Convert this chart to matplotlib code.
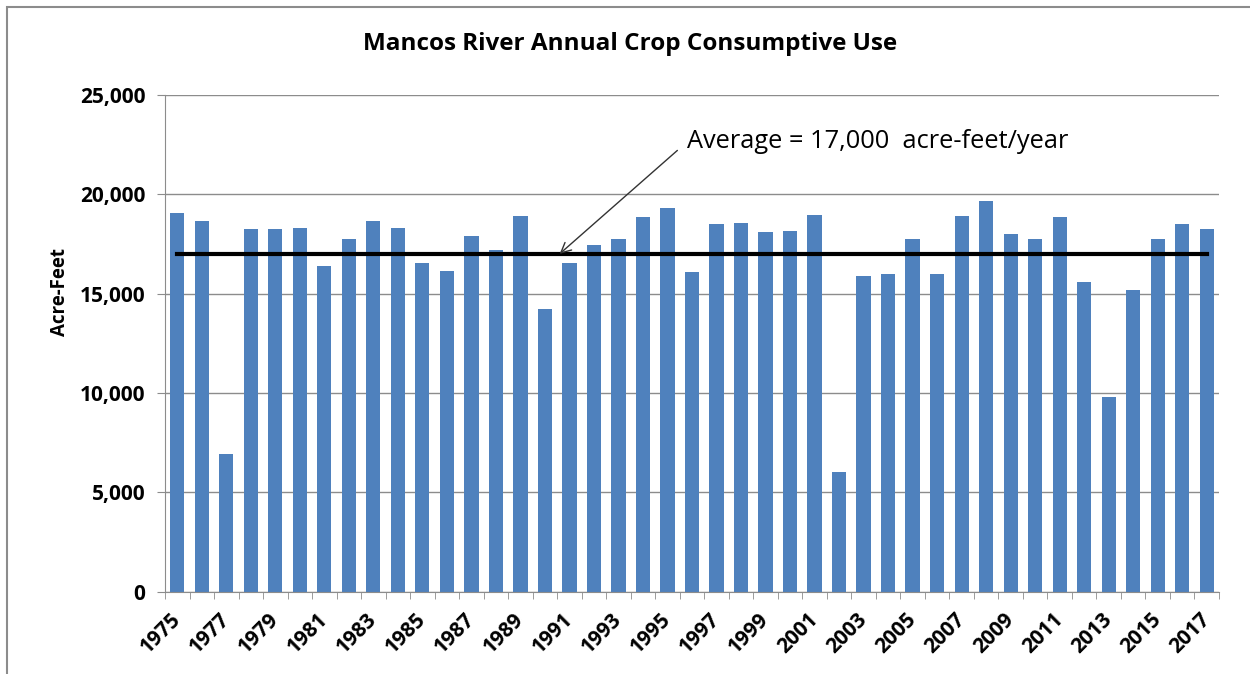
import matplotlib
matplotlib.use("Agg")
import matplotlib.pyplot as plt
from matplotlib.patches import Rectangle
from matplotlib.ticker import FuncFormatter, MultipleLocator
import numpy as np

# annual crop consumptive use, acre-feet
years = list(range(1975, 2018))
use_af = [19050, 18650, 6900, 18250, 18250, 18300, 16400, 17750, 18650, 18300,
          16550, 16150, 17900, 17200, 18900, 14200, 16550, 17450, 17750, 18850,
          19300, 16100, 18500, 18550, 18100, 18150, 18950, 6000, 15900, 16000,
          17750, 16000, 18900, 19650, 18000, 17750, 18850, 15600, 9800, 15200,
          17750, 18500, 18250]
average_af = 17000
label_years = years[::2]

plt.rcParams['font.family'] = ['Open Sans', 'DejaVu Sans']

fig = plt.figure(figsize=(12.5, 6.74), dpi=100)
# chart frame (cropped on right and bottom in the original)
fig.patches.append(Rectangle((7 / 1250, -0.05), 1.1, 1 - 7 / 674 + 0.05,
                             transform=fig.transFigure, fill=False,
                             edgecolor='#8c8c8c', linewidth=1.5))

ax = fig.add_axes([165 / 1250, 1 - 591.5 / 674, (1219 - 165) / 1250, (591.5 - 95) / 674])

ax.bar(years, use_af, width=0.58, color='#4F81BD', zorder=2)
ax.plot([years[0], years[-1]], [average_af, average_af], color='black', lw=3, zorder=3)

ax.set_xlim(years[0] - 0.5, years[-1] + 0.5)
ax.set_ylim(0, 25000)
ax.yaxis.set_major_locator(MultipleLocator(5000))
ax.yaxis.set_major_formatter(FuncFormatter(lambda v, p: f"{int(v):,}"))
ax.grid(axis='y', color='#8c8c8c', lw=1, zorder=0)

ax.set_xticks(label_years)
ax.set_xticklabels([str(y) for y in label_years], rotation=45, ha='right',
                   va='center', rotation_mode='anchor', fontsize=15, fontweight='bold')
ax.tick_params(axis='x', which='major', length=0, pad=18)
ax.set_xticks(np.arange(years[0] - 0.5, years[-1] + 1), minor=True)
ax.tick_params(axis='x', which='minor', length=5, color='#8c8c8c', direction='out')
ax.tick_params(axis='y', length=6, color='#8c8c8c', labelsize=15, pad=8)
for lab in ax.get_yticklabels():
    lab.set_fontweight('bold')

for s in ['top', 'right']:
    ax.spines[s].set_visible(False)
for s in ['left', 'bottom']:
    ax.spines[s].set_color('#8c8c8c')

ax.set_ylabel('Acre-Feet', fontsize=13.5, fontweight='bold')
ax.yaxis.set_label_coords(-0.09, 0.603)

fig.text(630 / 1250, 1 - 44 / 674, 'Mancos River Annual Crop Consumptive Use',
         ha='center', va='center', fontsize=17.5, fontweight='bold')

ax.annotate('Average = 17,000  acre-feet/year', xy=(1990.6, average_af),
            xytext=(1995.8, 22680), fontsize=18.3, va='center', ha='left',
            arrowprops=dict(arrowstyle='->', color='#333333', lw=1,
                            shrinkA=2, shrinkB=0, mutation_scale=18,
                            relpos=(-0.02, 0.2)))

fig.savefig('out.png', dpi=100)
